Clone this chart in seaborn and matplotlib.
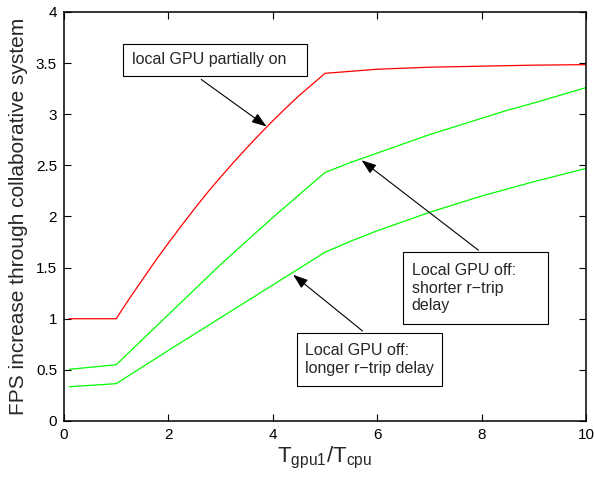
import matplotlib
matplotlib.use("Agg")
import matplotlib.pyplot as plt
from matplotlib.patches import Rectangle
import seaborn as sns
import pandas as pd

# ---- data ----
red_x = [0.1, 1.0, 1.25, 1.5, 1.75, 2.0, 2.25, 2.5, 2.75, 3.0, 3.25, 3.5, 3.75, 4.0,
         4.25, 4.5, 4.75, 5.0, 6.0, 7.0, 8.0, 9.0, 10.0]
red_y = [1.0, 1.0, 1.195, 1.38, 1.565, 1.74, 1.91, 2.075, 2.235, 2.385, 2.53, 2.67,
         2.805, 2.935, 3.06, 3.18, 3.29, 3.40, 3.44, 3.46, 3.47, 3.48, 3.485]

short_x = [0.1, 1.0, 2.0, 3.0, 4.0, 5.0, 5.5, 6.0, 6.5, 7.0, 7.5, 8.0, 8.5, 9.0, 9.5, 10.0]
short_y = [0.505, 0.55, 1.04, 1.53, 1.99, 2.43, 2.53, 2.62, 2.71, 2.80, 2.88, 2.96, 3.04,
           3.11, 3.185, 3.26]

long_x = [0.1, 1.0, 2.0, 3.0, 4.0, 5.0, 5.5, 6.0, 6.5, 7.0, 7.5, 8.0, 8.5, 9.0, 9.5, 10.0]
long_y = [0.335, 0.365, 0.69, 1.01, 1.33, 1.65, 1.76, 1.86, 1.95, 2.04, 2.12, 2.20, 2.27,
          2.34, 2.405, 2.47]

series_names = ["local GPU partially on", "Local GPU off: shorter r-trip delay",
                "Local GPU off: longer r-trip delay"]
series_colors = ["#ff0000", "#00ff00", "#00ff00"]

annot_texts = ["local GPU partially on",
               "Local GPU off:\nshorter r\u2212trip\ndelay",
               "Local GPU off:\nlonger r\u2212trip delay"]

x_ticks = [0, 2, 4, 6, 8, 10]
y_ticks = [0, 0.5, 1, 1.5, 2, 2.5, 3, 3.5, 4]

frames = []
for name, xs, ys in zip(series_names, [red_x, short_x, long_x], [red_y, short_y, long_y]):
    frames.append(pd.DataFrame({"x": xs, "y": ys, "series": name}))
df = pd.concat(frames, ignore_index=True)

sns.set_style("ticks")
plt.rcParams["font.family"] = ["Liberation Sans", "DejaVu Sans"]
plt.rcParams["mathtext.default"] = "regular"

fig = plt.figure(figsize=(5.94, 4.83), dpi=100)
ax = fig.add_axes([0.1077, 0.1284, 0.8788, 0.8468])

sns.lineplot(data=df, x="x", y="y", hue="series", palette=dict(zip(series_names, series_colors)),
             hue_order=series_names, ax=ax, legend=False, linewidth=0.9, sort=False,
             estimator=None)

ax.set_xlim(0, 10)
ax.set_ylim(0, 4)
ax.set_xticks(x_ticks)
ax.set_xticklabels([str(t) for t in x_ticks])
ax.set_yticks(y_ticks)
ax.set_yticklabels([("%g" % t) for t in y_ticks])
ax.tick_params(direction="in", top=True, right=True, length=5, width=0.8,
               labelsize=11, colors="black", pad=5)
for s in ax.spines.values():
    s.set_visible(True)
    s.set_linewidth(1.1)
    s.set_color("black")

ax.set_xlabel(r"$T_{gpu1}/T_{cpu}$", fontsize=16, labelpad=2)
ax.set_ylabel("FPS increase through collaborative system", fontsize=15, labelpad=6)

# annotation boxes (data coordinates)
boxes = [(1.136, 3.374, 4.661 - 1.136, 3.687 - 3.374),
         (6.50, 0.949, 9.278 - 6.50, 1.656 - 0.949),
         (4.458, 0.342, 7.236 - 4.458, 0.858 - 0.342)]
text_pos = [(1.303, 3.531), (6.661, 1.30), (4.617, 0.60)]
for (bx, by, bw, bh), (tx, ty), txt in zip(boxes, text_pos, annot_texts):
    ax.add_patch(Rectangle((bx, by), bw, bh, facecolor="white", edgecolor="black",
                           linewidth=0.8, zorder=4))
    ax.text(tx, ty, txt, fontsize=11.5, ha="left", va="center", linespacing=1.2, zorder=5)

arrow = dict(arrowstyle="-|>,head_length=0.9,head_width=0.32", color="black", lw=0.8,
             shrinkA=0, shrinkB=0)
ax.annotate("", xy=(3.88, 2.88), xytext=(2.63, 3.34), arrowprops=arrow)
ax.annotate("", xy=(5.70, 2.55), xytext=(7.94, 1.67), arrowprops=arrow)
ax.annotate("", xy=(4.39, 1.43), xytext=(5.72, 0.88), arrowprops=arrow)

fig.savefig("out.png", dpi=100)
